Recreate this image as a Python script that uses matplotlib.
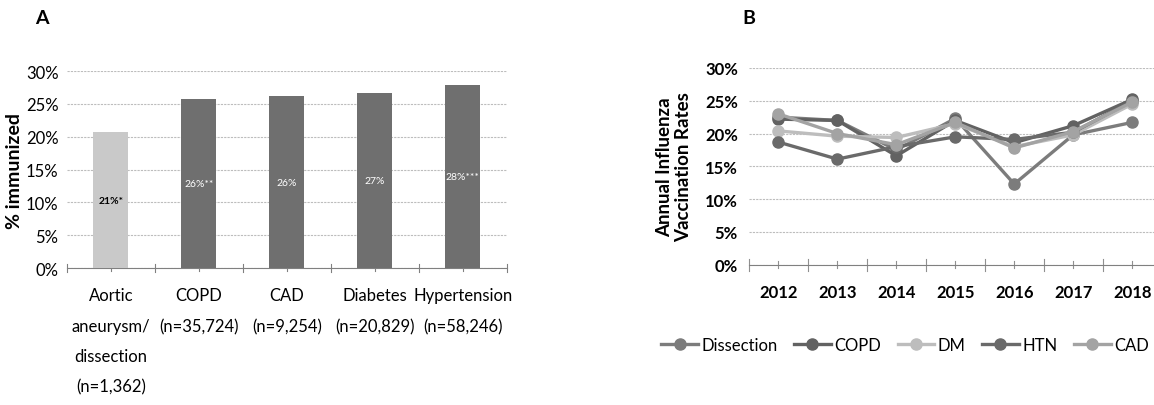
import numpy as np
import matplotlib.pyplot as plt
from matplotlib.ticker import FixedLocator, PercentFormatter

plt.rcParams['font.family'] = ['Lato', 'DejaVu Sans']

# panel A data
categories = ['Aortic\naneurysm/\ndissection\n(n=1,362)', 'COPD\n(n=35,724)', 'CAD\n(n=9,254)',
              'Diabetes\n(n=20,829)', 'Hypertension\n(n=58,246)']
immunized = [20.7, 25.8, 26.2, 26.6, 27.9]
bar_labels = ['21%*', '26%**', '26%', '27%', '28%***']

# panel B data
years = ['2012', '2013', '2014', '2015', '2016', '2017', '2018']
dissection = [22.5, 22.0, 17.5, 22.3, 12.3, 19.8, 21.7]
copd = [22.2, 22.0, 16.6, 22.0, 18.6, 21.2, 25.2]
dm = [20.4, 19.6, 19.4, 21.5, 18.0, 19.8, 24.5]
htn = [18.7, 16.1, 18.0, 19.5, 19.1, 20.2, 25.0]
cad = [23.0, 20.0, 18.3, 21.7, 17.8, 20.3, 24.8]

fig = plt.figure(figsize=(11.54, 4.06), dpi=100)

# ---- panel A ----
axA = fig.add_axes([0.058, 0.3374, 0.381, 0.485])
x = np.arange(len(categories))
colors = ['#c9c9c9'] + ['#6f6f6f'] * 4
bars = axA.bar(x, immunized, width=0.4, color=colors, zorder=3)
for i, (b, lab) in enumerate(zip(bars, bar_labels)):
    axA.text(b.get_x() + b.get_width() / 2, b.get_height() / 2, lab,
             ha='center', va='center', fontsize=7.5,
             color='black' if i == 0 else 'white',
             fontweight='bold' if i == 0 else 'normal', zorder=4)
axA.set_xlim(-0.5, len(categories) - 0.5)
axA.set_ylim(0, 30)
axA.yaxis.set_major_locator(FixedLocator([0, 5, 10, 15, 20, 25, 30]))
axA.yaxis.set_major_formatter(PercentFormatter(decimals=0))
axA.grid(axis='y', color='#bdbdbd', linewidth=0.8, linestyle=(0, (2, 1)), zorder=0)
for s in ['top', 'right', 'left']:
    axA.spines[s].set_visible(False)
axA.spines['bottom'].set_color('#808080')
axA.set_xticks(x, categories, linespacing=2.1)
axA.tick_params(axis='x', length=0, pad=14, labelsize=12)
axA.tick_params(axis='y', length=0, labelsize=12, pad=6)
for xv in np.arange(-0.5, len(x), 1.0):
    axA.plot([xv, xv], [-0.6, 0.6], color='#808080', lw=0.8, clip_on=False)
for xc in x:
    axA.plot([xc, xc], [-0.4, 0.4], color='#808080', lw=0.8, clip_on=False)
axA.set_ylabel('% immunized', fontsize=14, fontweight='bold')
axA.yaxis.set_label_coords(-0.10, 0.5)
fig.text(0.030, 0.955, 'A', fontsize=14, fontweight='bold', va='center')

# ---- panel B ----
axB = fig.add_axes([0.649, 0.3456, 0.351, 0.4845])
xb = np.arange(len(years))
series = [('Dissection', dissection, '#7c7c7c'), ('COPD', copd, '#626262'),
          ('DM', dm, '#bdbdbd'), ('HTN', htn, '#6a6a6a'), ('CAD', cad, '#a3a3a3')]
for name, vals, col in series:
    axB.plot(xb, vals, color=col, lw=2.4, marker='o', markersize=8, label=name, zorder=3)
axB.set_xlim(-0.5, 6.37)
axB.set_ylim(0, 30)
axB.yaxis.set_major_locator(FixedLocator([0, 5, 10, 15, 20, 25, 30]))
axB.yaxis.set_major_formatter(PercentFormatter(decimals=0))
axB.grid(axis='y', color='#bdbdbd', linewidth=0.8, linestyle=(0, (2, 1)), zorder=0)
for s in ['top', 'right', 'left']:
    axB.spines[s].set_visible(False)
axB.spines['bottom'].set_color('#808080')
axB.set_xticks(xb, years)
axB.tick_params(axis='x', length=0, pad=14, labelsize=12)
axB.tick_params(axis='y', length=0, labelsize=12, pad=8)
for t in axB.get_xticklabels() + axB.get_yticklabels():
    t.set_fontweight('bold')
for xv in np.arange(-0.5, 6.5, 1.0):
    axB.plot([xv, xv], [-0.9, 0.9], color='#909090', lw=0.8, clip_on=False)
for xc in xb:
    axB.plot([xc, xc], [-0.5, 0.5], color='#909090', lw=0.8, clip_on=False)
axB.set_ylabel('Annual Influenza\nVaccination Rates', fontsize=13.5, fontweight='bold',
               linespacing=1.15)
axB.yaxis.set_label_coords(-0.14, 0.5)
axB.legend(loc='upper center', bbox_to_anchor=(0.385, -0.29), ncol=5, frameon=False,
           fontsize=12, handlelength=2.2, handletextpad=0.2, columnspacing=1.0)
fig.text(0.643, 0.955, 'B', fontsize=14, fontweight='bold', va='center')

fig.savefig('out.png', dpi=100)
